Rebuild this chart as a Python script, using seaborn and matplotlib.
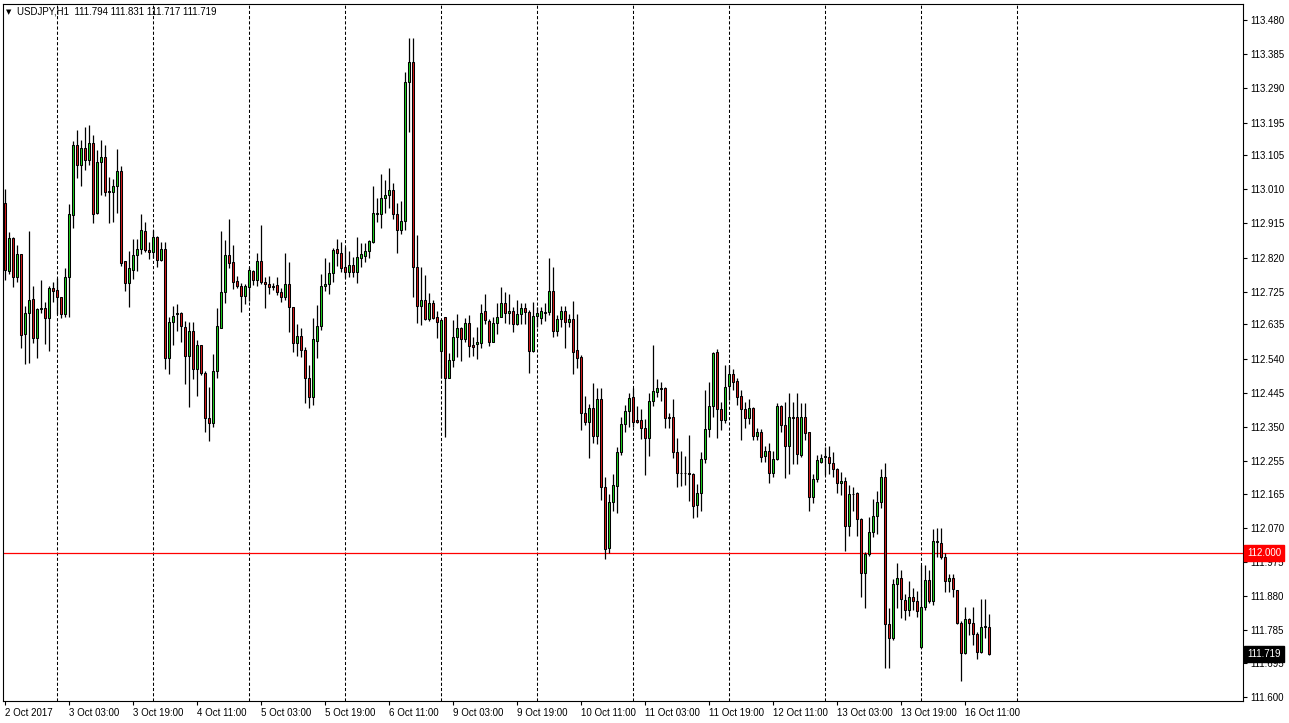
import numpy as np
import pandas as pd
import matplotlib
matplotlib.use("Agg")
import matplotlib.pyplot as plt
import matplotlib.transforms as mtransforms
import seaborn as sns

# ---------------- data (USDJPY H1) ----------------
opens = [112.973,112.784,112.876,112.767,112.830,112.607,112.666,112.705,112.598,112.677,
         112.680,112.652,112.735,112.730,112.710,112.664,112.766,112.939,113.133,113.077,
         113.125,113.091,113.139,112.943,113.087,113.099,113.005,113.003,113.019,113.061,
         112.811,112.751,112.786,112.828,112.843,112.894,112.841,112.835,112.877,112.814,
         112.843,112.541,112.641,112.663,112.666,112.628,112.548,112.616,112.510,112.577,
         112.499,112.374,112.360,112.506,112.626,112.724,112.828,112.807,112.755,112.742,
         112.714,112.738,112.783,112.758,112.811,112.752,112.747,112.738,112.743,112.724,
         112.710,112.746,112.682,112.582,112.603,112.564,112.485,112.434,112.590,112.630,
         112.742,112.746,112.777,112.843,112.832,112.793,112.779,112.800,112.779,112.820,
         112.826,112.839,112.864,112.941,112.941,112.985,112.994,113.008,112.941,112.897,
         112.922,113.307,113.364,112.793,112.686,112.703,112.649,112.693,112.654,112.562,
         112.654,112.487,112.536,112.599,112.624,112.593,112.638,112.578,112.580,112.584,
         112.672,112.645,112.587,112.640,112.656,112.693,112.667,112.672,112.636,112.664,
         112.679,112.668,112.562,112.659,112.652,112.666,112.668,112.728,112.617,112.649,
         112.672,112.641,112.650,112.564,112.543,112.390,112.363,112.402,112.326,112.427,
         112.182,112.013,112.142,112.187,112.280,112.357,112.395,112.432,112.369,112.369,
         112.346,112.318,112.423,112.448,112.455,112.457,112.377,112.377,112.279,112.221,
         112.223,112.223,112.219,112.133,112.166,112.260,112.344,112.408,112.557,112.399,
         112.369,112.465,112.497,112.478,112.436,112.400,112.374,112.402,112.326,112.335,
         112.270,112.283,112.221,112.261,112.408,112.355,112.298,112.377,112.377,112.272,
         112.377,112.335,112.155,112.205,112.254,112.266,112.266,112.249,112.232,112.193,
         112.200,112.076,112.163,112.167,112.094,111.945,111.997,112.057,112.103,112.141,
         112.210,111.802,111.763,111.914,111.930,111.869,111.841,111.877,111.867,111.740,
         111.849,111.925,111.867,112.030,112.029,111.988,111.923,111.930,111.897,111.805,
         111.721,111.816,111.805,111.774,111.726,111.794,111.794]
highs = [113.010,112.891,112.878,112.855,112.830,112.687,112.894,112.741,112.681,112.758,
         112.698,112.741,112.752,112.763,112.712,112.791,112.969,113.144,113.175,113.147,
         113.183,113.189,113.161,113.119,113.147,113.133,113.045,113.038,113.122,113.075,
         112.811,112.839,112.872,112.871,112.941,112.918,112.864,112.897,112.880,112.863,
         112.863,112.656,112.686,112.691,112.668,112.644,112.641,112.641,112.591,112.577,
         112.505,112.460,112.553,112.679,112.894,112.869,112.927,112.855,112.769,112.749,
         112.747,112.795,112.786,112.832,112.911,112.767,112.769,112.749,112.766,112.735,
         112.832,112.809,112.684,112.635,112.624,112.573,112.522,112.652,112.689,112.775,
         112.818,112.807,112.846,112.872,112.863,112.851,112.839,112.823,112.877,112.860,
         112.862,112.869,113.019,112.985,113.052,113.036,113.068,113.027,112.973,112.977,
         113.335,113.429,113.429,112.883,112.793,112.772,112.721,112.703,112.673,112.649,
         112.654,112.556,112.647,112.664,112.628,112.652,112.661,112.601,112.628,112.691,
         112.719,112.649,112.654,112.693,112.739,112.726,112.719,112.684,112.703,112.693,
         112.693,112.675,112.698,112.682,112.684,112.693,112.820,112.793,112.661,112.687,
         112.686,112.663,112.700,112.663,112.550,112.437,112.414,112.473,112.459,112.459,
         112.212,112.163,112.219,112.293,112.377,112.411,112.443,112.457,112.408,112.399,
         112.372,112.445,112.578,112.482,112.474,112.462,112.388,112.427,112.318,112.283,
         112.269,112.328,112.221,112.191,112.279,112.453,112.476,112.559,112.566,112.420,
         112.522,112.522,112.511,112.485,112.453,112.420,112.427,112.405,112.346,112.344,
         112.297,112.305,112.283,112.417,112.411,112.418,112.445,112.420,112.443,112.416,
         112.416,112.335,112.219,112.272,112.275,112.295,112.298,112.279,112.235,112.226,
         112.212,112.189,112.184,112.170,112.096,112.004,112.101,112.149,112.172,112.233,
         112.249,111.846,111.927,111.971,111.953,111.886,111.922,111.903,111.893,111.967,
         111.967,111.953,112.067,112.068,112.068,111.999,111.942,111.941,111.897,111.812,
         111.849,111.819,111.849,111.781,111.871,111.871,111.831]
lows = [112.758,112.774,112.739,112.753,112.568,112.524,112.527,112.584,112.541,112.666,
        112.580,112.562,112.696,112.664,112.652,112.656,112.656,112.902,113.041,113.019,
        113.064,113.077,112.917,112.941,112.994,112.992,112.916,112.918,112.945,112.798,
        112.728,112.684,112.760,112.784,112.830,112.837,112.816,112.818,112.793,112.812,
        112.510,112.497,112.578,112.617,112.587,112.468,112.405,112.482,112.436,112.494,
        112.337,112.312,112.351,112.485,112.626,112.693,112.791,112.732,112.735,112.670,
        112.691,112.701,112.744,112.742,112.747,112.681,112.718,112.730,112.716,112.698,
        112.703,112.613,112.559,112.547,112.545,112.416,112.402,112.411,112.541,112.619,
        112.728,112.718,112.752,112.797,112.781,112.763,112.766,112.766,112.749,112.795,
        112.807,112.818,112.860,112.920,112.903,112.943,112.957,112.927,112.834,112.885,
        112.897,113.170,112.712,112.638,112.633,112.647,112.645,112.649,112.596,112.485,
        112.321,112.487,112.517,112.543,112.534,112.587,112.543,112.547,112.538,112.568,
        112.635,112.575,112.587,112.608,112.654,112.638,112.636,112.615,112.633,112.636,
        112.636,112.499,112.557,112.628,112.636,112.645,112.661,112.599,112.603,112.627,
        112.570,112.627,112.496,112.515,112.342,112.355,112.263,112.305,112.302,112.147,
        111.983,111.999,112.117,112.110,112.272,112.335,112.351,112.349,112.360,112.316,
        112.217,112.270,112.409,112.434,112.422,112.346,112.346,112.263,112.182,112.187,
        112.189,112.145,112.096,112.101,112.117,112.251,112.323,112.378,112.320,112.342,
        112.360,112.425,112.453,112.411,112.314,112.346,112.358,112.314,112.314,112.254,
        112.254,112.195,112.212,112.258,112.337,112.207,112.219,112.247,112.247,112.267,
        112.314,112.117,112.140,112.198,112.249,112.217,112.219,112.210,112.166,112.161,
        112.006,112.048,112.117,112.047,111.879,111.846,111.992,112.045,112.052,112.126,
        111.680,111.680,111.758,111.846,111.819,111.815,111.825,111.842,111.823,111.735,
        111.842,111.860,111.856,111.990,111.983,111.892,111.892,111.877,111.803,111.645,
        111.720,111.772,111.744,111.705,111.723,111.763,111.717]
closes = [112.786,112.874,112.767,112.830,112.605,112.666,112.703,112.598,112.678,112.681,
          112.652,112.735,112.728,112.710,112.663,112.766,112.941,113.133,113.077,113.125,
          113.091,113.139,112.941,113.086,113.099,113.003,113.002,113.019,113.061,112.806,
          112.751,112.791,112.828,112.844,112.897,112.840,112.835,112.877,112.814,112.843,
          112.541,112.641,112.659,112.666,112.630,112.547,112.616,112.510,112.577,112.499,
          112.374,112.362,112.506,112.630,112.724,112.828,112.806,112.753,112.742,112.714,
          112.741,112.786,112.758,112.811,112.752,112.746,112.739,112.742,112.724,112.710,
          112.746,112.682,112.582,112.603,112.564,112.485,112.434,112.593,112.630,112.741,
          112.746,112.777,112.841,112.832,112.792,112.779,112.800,112.779,112.821,112.830,
          112.839,112.866,112.943,112.945,112.985,112.994,113.008,112.941,112.897,112.922,
          113.307,113.364,112.793,112.687,112.703,112.649,112.693,112.652,112.642,112.647,
          112.485,112.536,112.599,112.624,112.593,112.638,112.575,112.573,112.585,112.667,
          112.647,112.587,112.640,112.656,112.693,112.667,112.672,112.635,112.663,112.679,
          112.670,112.562,112.659,112.666,112.672,112.670,112.728,112.617,112.649,112.672,
          112.641,112.650,112.559,112.542,112.390,112.365,112.402,112.326,112.427,112.182,
          112.010,112.141,112.189,112.280,112.357,112.395,112.430,112.363,112.363,112.346,
          112.318,112.422,112.450,112.457,112.457,112.376,112.376,112.279,112.223,112.223,
          112.221,112.219,112.131,112.166,112.261,112.344,112.408,112.554,112.399,112.369,
          112.462,112.497,112.476,112.434,112.399,112.374,112.402,112.326,112.335,112.267,
          112.283,112.221,112.261,112.408,112.355,112.298,112.377,112.375,112.274,112.377,
          112.334,112.156,112.205,112.258,112.263,112.269,112.249,112.232,112.193,112.200,
          112.076,112.164,112.164,112.094,111.944,111.997,112.057,112.103,112.141,112.210,
          111.802,111.763,111.913,111.930,111.871,111.841,111.877,111.867,111.839,111.849,
          111.925,111.867,112.033,112.033,111.988,111.923,111.930,111.899,111.805,111.721,
          111.816,111.805,111.774,111.726,111.794,111.797,111.719]

first_bar = "2017-10-02 11:00"
grid_until = "2017-10-17 00:00"

time_tick_times = ["2017-10-02 11:00", "2017-10-03 03:00", "2017-10-03 19:00", "2017-10-04 11:00",
                   "2017-10-05 03:00", "2017-10-05 19:00", "2017-10-06 11:00", "2017-10-09 03:00",
                   "2017-10-09 19:00", "2017-10-10 11:00", "2017-10-11 03:00", "2017-10-11 19:00",
                   "2017-10-12 11:00", "2017-10-13 03:00", "2017-10-13 19:00", "2017-10-16 11:00"]
time_tick_labels = ["2 Oct 2017", "3 Oct 03:00", "3 Oct 19:00", "4 Oct 11:00", "5 Oct 03:00",
                    "5 Oct 19:00", "6 Oct 11:00", "9 Oct 03:00", "9 Oct 19:00", "10 Oct 11:00",
                    "11 Oct 03:00", "11 Oct 19:00", "12 Oct 11:00", "13 Oct 03:00",
                    "13 Oct 19:00", "16 Oct 11:00"]

price_ticks = [113.480, 113.385, 113.290, 113.195, 113.105, 113.010, 112.915, 112.820, 112.725,
               112.635, 112.540, 112.445, 112.350, 112.255, 112.165, 112.070, 111.975, 111.880,
               111.785, 111.695, 111.600]

level_line = 112.000
title_text = "USDJPY,H1  111.794 111.831 111.717 111.719"

# ---------------- build the trading-hour time axis ----------------
all_hours = pd.date_range(first_bar, grid_until, freq="h")
trade_hours = all_hours[all_hours.dayofweek < 5]
n = len(opens)
times = trade_hours[:n]
df = pd.DataFrame({"time": times, "open": opens, "high": highs, "low": lows, "close": closes})
df["pos"] = np.arange(n)
df["bull"] = df["close"] >= df["open"]

# ---------------- style ----------------
sns.set_style("white")
plt.rcParams["font.family"] = ["Liberation Sans", "DejaVu Sans"]

W, H = 1289, 723
fig = plt.figure(figsize=(W / 100, H / 100), dpi=100, facecolor="white")
ax = fig.add_axes([3 / W, 1 - 701 / H, 1240 / W, 697 / H])
ax.set_facecolor("white")

# x/y limits (4 px per bar)
ax.set_xlim(-0.5, 309.5)
ax.set_ylim(111.5889, 113.5245)

# midnight grid lines (dashed)
ext_pos = np.arange(len(trade_hours))
midnights = ext_pos[trade_hours.hour == 0]
for m in midnights:
    ax.axvline(m, color="black", lw=0.75, linestyle=(0, (3, 2)), zorder=1)

# price level line
ax.axhline(level_line, color="#FF0000", lw=0.9, zorder=1.5)

# wicks
ax.vlines(df["pos"], df["low"], df["high"], colors="black", linewidth=0.9, zorder=2)

# bodies
body_bottom = np.minimum(df["open"], df["close"])
body_height = np.maximum(np.abs(df["close"] - df["open"]), 0.0006)
body_colors = np.where(df["bull"], "#1FD01F", "#D51A1A")
ax.bar(df["pos"], body_height, bottom=body_bottom, width=0.55, color=body_colors,
       edgecolor="black", linewidth=0.75, zorder=3)

# axes ticks
ax.yaxis.tick_right()
ax.set_yticks(price_ticks)
ax.set_yticklabels([f"{v:.3f}" for v in price_ticks])
tick_pos = [int(np.where(times == pd.Timestamp(t))[0][0]) for t in time_tick_times]
ax.set_xticks(tick_pos)
ax.set_xticklabels(time_tick_labels, ha="left")
ax.tick_params(axis="y", which="both", right=True, left=False, length=3, width=0.8,
               labelsize=7, pad=2, colors="black")
ax.tick_params(axis="x", which="both", bottom=True, length=3, width=0.8,
               labelsize=7, pad=2, colors="black")
for lbl in ax.get_xticklabels():
    lbl.set_horizontalalignment("left")

for sp in ax.spines.values():
    sp.set_visible(True)
    sp.set_color("black")
    sp.set_linewidth(0.8)

# right-side price boxes
trans = mtransforms.blended_transform_factory(ax.transAxes, ax.transData)
ax.text(1.0035, level_line, f"{level_line:.3f}", transform=trans, ha="left", va="center",
        fontsize=7, color="white", zorder=10, clip_on=False,
        bbox=dict(boxstyle="square,pad=0.3", facecolor="#FF0000", edgecolor="#FF0000"))
last_close = closes[-1]
ax.text(1.0035, last_close, f"{last_close:.3f}", transform=trans, ha="left", va="center",
        fontsize=7, color="white", zorder=10, clip_on=False,
        bbox=dict(boxstyle="square,pad=0.3", facecolor="black", edgecolor="black"))

# title (top-left)
fig.text(6 / W, 1 - 12 / H, "\u25BC", fontsize=5, ha="left", va="center", color="black",
         family=["DejaVu Sans"])
fig.text(17 / W, 1 - 12 / H, title_text, fontsize=7, ha="left", va="center", color="black")

fig.savefig("out.png", dpi=100, facecolor="white")
